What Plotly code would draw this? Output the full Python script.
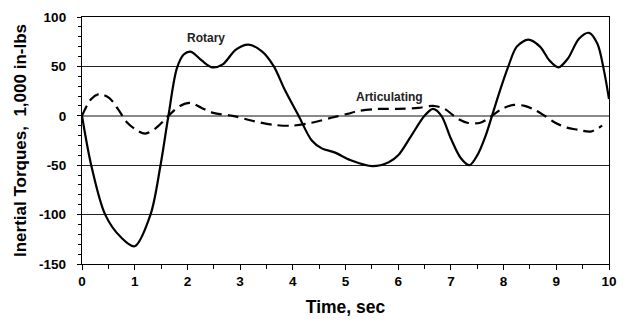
import plotly.graph_objects as go

rot_t = [0, 0.175, 0.44, 0.74, 1.0, 1.3, 1.49, 1.64, 1.8, 1.93, 2.06, 2.27, 2.47, 2.67,
         2.92, 3.16, 3.42, 3.64, 3.85, 4.11, 4.36, 4.55, 4.79, 5.1, 5.51, 5.82, 6.0, 6.25, 6.5,
         6.66, 6.82, 7.0, 7.19, 7.35, 7.5, 7.66, 7.78, 7.94, 8.09, 8.25, 8.47, 8.69, 8.87, 9.04, 9.22, 9.43,
         9.62, 9.78, 9.9, 10.0]
rot_v = [0, -50, -100, -123, -132, -100, -50, 0, 48, 62, 65, 56, 49, 52,
         67, 72, 65, 50, 26, 0, -25, -33, -37, -45, -51, -47, -40, -20, 0,
         7, 0, -23, -43, -50, -40, -20, 0, 27, 50, 70, 77, 70, 56, 49, 58, 78,
         84, 73, 47, 17]

art_t = [0, 0.175, 0.33, 0.52, 0.68, 0.86, 1.05, 1.2, 1.39, 1.55, 1.68, 1.86, 2.05, 2.27, 2.49, 2.86, 3.23,
         3.61, 3.98, 4.36, 4.73, 5.04, 5.26, 5.63, 6.0, 6.38, 6.66, 6.88, 7.13, 7.31, 7.56, 7.78, 7.97, 8.19,
         8.4, 8.59, 8.78, 8.98, 9.2, 9.4, 9.65, 9.87]
art_v = [0, 17, 22, 18, 7, -7, -15, -18, -13, -5, 2, 10, 13, 8, 3, 0, -5,
         -9, -10, -7, -2, 2, 5, 7, 7, 8, 10, 7, -3, -7, -7, 0, 7, 11,
         10, 6, 0, -7, -12, -14, -16, -10]

x_ticks = list(range(0, 11))
y_ticks = [-150, -100, -50, 0, 50, 100]

fig = go.Figure()
fig.add_trace(go.Scatter(x=rot_t, y=rot_v, mode="lines", name="Rotary",
                         line=dict(color="black", width=2.2, shape="spline", smoothing=0.9)))
fig.add_trace(go.Scatter(x=art_t, y=art_v, mode="lines", name="Articulating",
                         line=dict(color="black", width=2.2, dash="11px,6px", shape="spline", smoothing=0.9)))

fig.add_annotation(x=2.36, y=79, text="<b>Rotary</b>", showarrow=False,
                   font=dict(family="Liberation Sans", size=12, color="#222222"), xanchor="center", yanchor="middle")
fig.add_annotation(x=5.84, y=19.3, text="<b>Articulating</b>", showarrow=False,
                   font=dict(family="Liberation Sans", size=12, color="#222222"), xanchor="center", yanchor="middle")

fig.update_layout(
    width=627, height=324,
    margin=dict(l=82, r=10, t=17, b=57),
    paper_bgcolor="white", plot_bgcolor="white",
    showlegend=False,
    font=dict(family="Liberation Sans", color="black"),
    xaxis=dict(range=[0, 10], tickvals=x_ticks, ticktext=["<b>%d</b>" % v for v in x_ticks],
               ticks="outside", ticklen=5, tickwidth=1, tickcolor="black",
               minor=dict(dtick=0.5, ticks="outside", ticklen=4, tickcolor="black"),
               showline=True, linecolor="black", linewidth=1.3, mirror=True,
               showgrid=False, zeroline=False,
               tickfont=dict(size=13.5, family="Liberation Sans", color="black"),
               title=dict(text="<b>Time, sec</b>", font=dict(size=17.5), standoff=12)),
    yaxis=dict(range=[-150, 100], tickvals=y_ticks, ticktext=["<b>%d</b>" % v for v in y_ticks],
               ticks="outside", ticklen=4, tickwidth=1, tickcolor="black",
               minor=dict(dtick=10, ticks="outside", ticklen=3, tickcolor="black"),
               showline=True, linecolor="black", linewidth=1.3, mirror=True,
               showgrid=True, gridcolor="#222222", gridwidth=1,
               zeroline=True, zerolinecolor="#888888", zerolinewidth=2,
               ticklabelstandoff=8,
               tickfont=dict(size=13.5, family="Liberation Sans", color="black"),
               title=dict(text="<b>Inertial Torques,  1,000 in-lbs</b>", font=dict(size=17), standoff=8)),
)

fig.write_html("out.html")
